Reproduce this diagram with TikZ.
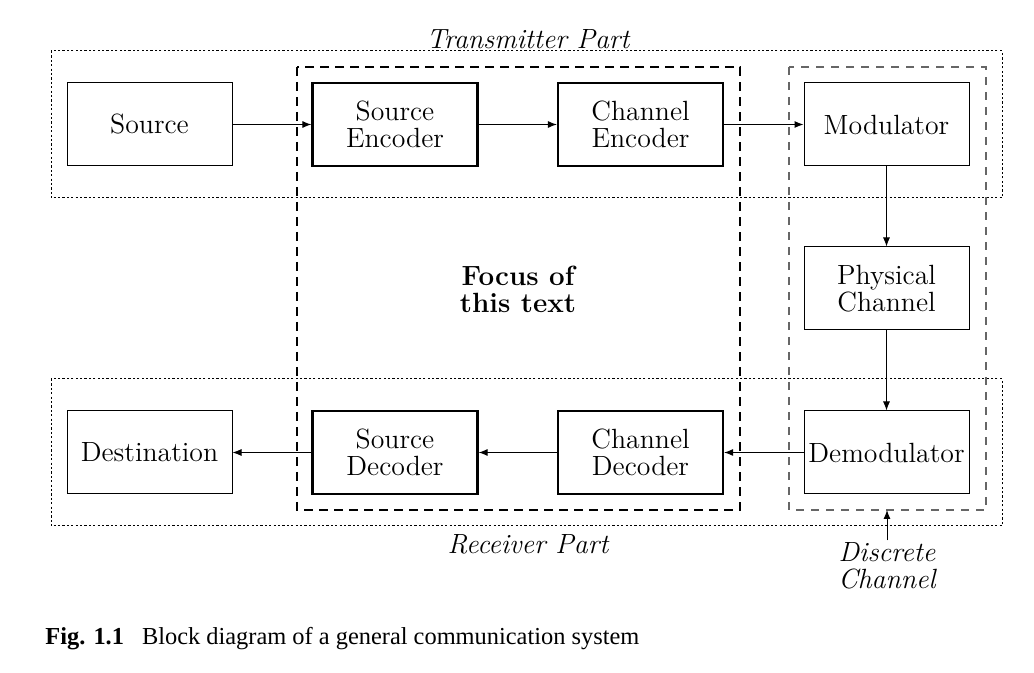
\documentclass[tikz,border=0pt]{standalone}
\usepackage{fontspec}
\newfontfamily\capfont{Liberation Serif}
\usetikzlibrary{arrows.meta}

\begin{document}
\begin{tikzpicture}[x=0.5pt, y=-0.5pt, >={Latex[length=4.5pt, width=3.5pt]},
  blk/.style={draw, line width=0.5pt, minimum width=82.5pt, minimum height=41.5pt,
    inner sep=0pt, align=center, font=\fontsize{13.9}{13.5}\selectfont},
  thkblk/.style={blk, line width=1.1pt},
  lbl/.style={align=center, inner sep=1pt, font=\fontsize{13.9}{13.5}\selectfont\itshape}]
  \useasboundingbox (0,0) rectangle (1034,673);
  % Transmitter and receiver parts
  \draw[line width=0.5pt, dash pattern=on 1.1pt off 1.1pt] (51,51) rectangle (1002,198);
  \draw[line width=0.5pt, dash pattern=on 1.1pt off 1.1pt] (51,379) rectangle (1002,526);
  \node[lbl] (tx) at (528,39) {Transmitter Part};
  \node[lbl] (rx) at (528,544) {Receiver Part};
  % Focus box
  \draw[line width=1pt, dash pattern=on 4.5pt off 3pt] (297,67) rectangle (740,510);
  \node[align=center, font=\fontsize{13.9}{13.5}\selectfont\bfseries] (focus) at (518,289) {Focus of\\this text};
  % Discrete channel box
  \draw[black!60, line width=0.6pt, dash pattern=on 4pt off 3.5pt] (789,67) rectangle (986,510);
  \coordinate (dcb) at (887,510);
  \node[lbl] (disc) at (887,566) {Discrete\\Channel};
  % Blocks
  \node[blk] (src) at (149.5,124.5) {Source};
  \node[thkblk] (senc) at (395,124.5) {Source\\Encoder};
  \node[thkblk] (cenc) at (640.5,124.5) {Channel\\Encoder};
  \node[blk] (mod) at (886.5,124.5) {Modulator};
  \node[blk] (phy) at (886.5,288.5) {Physical\\Channel};
  \node[blk] (demod) at (886.5,452.5) {Demodulator};
  \node[thkblk] (cdec) at (640.5,452.5) {Channel\\Decoder};
  \node[thkblk] (sdec) at (395,452.5) {Source\\Decoder};
  \node[blk] (dst) at (149.5,452.5) {Destination};
  % Connections
  \draw[->, line width=0.5pt] (src) -- (senc);
  \draw[->, line width=0.5pt] (senc) -- (cenc);
  \draw[->, line width=0.5pt] (cenc) -- (mod);
  \draw[->, line width=0.5pt] (mod) -- (phy);
  \draw[->, line width=0.5pt] (phy) -- (demod);
  \draw[->, line width=0.5pt] (demod) -- (cdec);
  \draw[->, line width=0.5pt] (cdec) -- (sdec);
  \draw[->, line width=0.5pt] (sdec) -- (dst);
  \draw[->, line width=0.5pt] (disc) -- (dcb);
  % Caption
  \node[anchor=base west, inner sep=0pt, font=\capfont\fontsize{12.2}{14}\selectfont] (cap) at (45,645)
    {\textbf{Fig. 1.1}\hspace{9pt}Block diagram of a general communication system};
\end{tikzpicture}
\end{document}
